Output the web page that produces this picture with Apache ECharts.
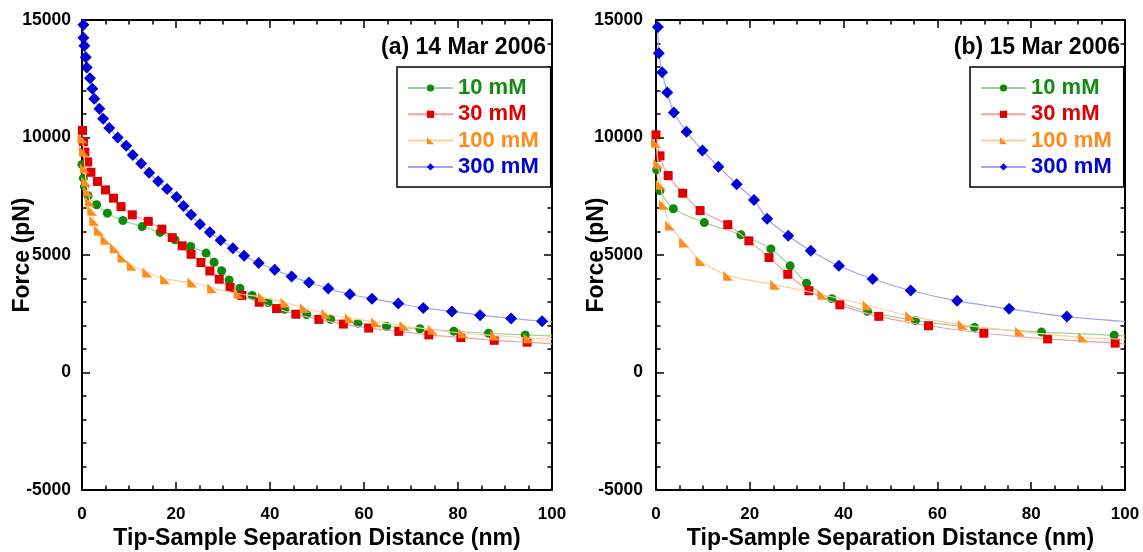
<!DOCTYPE html>
<html><head><meta charset="utf-8">
<script src="https://cdn.jsdelivr.net/npm/echarts@6/dist/echarts.min.js"></script>
<style>html,body{margin:0;padding:0;background:#fff}#c{width:1143px;height:552px}</style>
</head><body><div id="c"></div>
<script>
// ---------------- data ----------------
const seriesNames = ['10 mM', '30 mM', '100 mM', '300 mM'];
const panelTitles = ['(a) 14 Mar 2006', '(b) 15 Mar 2006'];
const xAxisTitle = 'Tip-Sample Separation Distance (nm)';
const yAxisTitle = 'Force (pN)';

// panel (a) 14 Mar 2006 : [distance nm, force pN]
const a10 = [[0,8850],[0.3,8270],[0.5,7910],[1.3,7520],[3.1,7140],[5.4,6780],[8.7,6470],[12.8,6210],[16.6,5960],[19.8,5650],[23.1,5360],[26.4,5080],[28.1,4690],[29.7,4330],[31.3,3940],[33.6,3590],[36.2,3280],[39.6,2980],[43.1,2690],[47.8,2460],[52.9,2260],[58.7,2100],[64.8,1960],[71.9,1860],[79.1,1760],[86.5,1670],[94.3,1600]];
const a30 = [[0.1,10300],[0.3,9830],[0.6,9380],[1.2,8960],[1.9,8520],[3.3,8130],[5.0,7770],[6.7,7420],[8.3,7060],[10.7,6710],[14.1,6430],[17.0,6100],[19.2,5740],[21.3,5390],[23.2,5030],[25.3,4680],[27.2,4320],[29.2,3970],[31.5,3620],[34.0,3280],[37.7,2990],[41.4,2720],[45.5,2480],[50.4,2260],[55.6,2060],[61.0,1890],[67.4,1750],[73.8,1600],[80.6,1490],[87.7,1370],[94.7,1290]];
const a100 = [[0.1,9970],[0.4,9400],[0.6,8690],[0.9,8130],[1.3,7700],[1.7,7280],[2.2,6880],[2.6,6460],[3.6,6030],[5.0,5650],[7.0,5290],[8.6,4890],[10.6,4540],[13.9,4260],[17.7,3970],[23.5,3830],[27.7,3590],[33.3,3350],[38.5,3200],[43.3,2970],[47.4,2740],[52.0,2500],[57.0,2310],[62.6,2140],[68.6,1990],[74.6,1820],[81.1,1670],[87.9,1570],[95.0,1460]];
const a300 = [[0.3,14800],[0.3,14250],[0.5,13900],[0.8,13420],[1.0,12980],[1.7,12520],[2.2,12070],[2.6,11650],[3.7,11220],[4.5,10800],[5.8,10400],[7.6,10000],[9.4,9650],[10.8,9260],[12.6,8890],[14.3,8500],[16.2,8140],[18.1,7810],[20.1,7470],[21.6,7090],[23.2,6710],[25.1,6310],[27.2,5970],[29.5,5630],[32.1,5290],[34.5,4970],[37.6,4660],[41.0,4370],[44.6,4090],[48.3,3830],[52.4,3570],[57.0,3330],[61.7,3140],[67.3,2940],[72.6,2750],[78.7,2600],[84.7,2440],[91.3,2300],[97.9,2180]];
// where each fitted curve meets the right edge (no marker)
const aEnds = [[100,1560],[100,1220],[100,1420],[100,2150]];

// panel (b) 15 Mar 2006
const b10 = [[0.15,8630],[0.85,7740],[3.7,6970],[10.3,6380],[18.1,5860],[24.5,5260],[28.6,4540],[32.1,3800],[37.5,3140],[45.1,2600],[55.3,2210],[67.9,1920],[82.2,1720],[97.7,1590]];
const b30 = [[0,10110],[0.85,9220],[2.6,8380],[5.7,7630],[9.4,6890],[15.3,6290],[19.8,5600],[24.1,4890],[28.1,4180],[32.6,3480],[39.2,2880],[47.5,2390],[58.1,1990],[69.9,1670],[83.5,1430],[97.9,1250]];
const b100 = [[0,9780],[0.5,8880],[1.0,7990],[1.7,7140],[3.0,6260],[6.0,5530],[9.5,4750],[15.4,4120],[25.4,3730],[35.5,3310],[45.1,2860],[54.2,2400],[65.4,2030],[77.6,1750],[91.1,1490]];
const b300 = [[0.4,14700],[0.6,13590],[1.3,12780],[2.4,11910],[3.8,11060],[6.5,10250],[9.9,9450],[13.3,8760],[17.2,8010],[20.9,7340],[23.7,6540],[28.2,5820],[33.0,5180],[39.0,4540],[46.2,3980],[54.3,3490],[64.2,3050],[75.3,2710],[87.6,2380]];
const bEnds = [[100,1560],[100,1210],[100,1420],[100,2170]];

const xMin = 0, xMax = 100, xStep = 20;
const yMin = -5000, yMax = 15000, yStep = 5000;

// ---------------- style ----------------
const FONT = '"Liberation Sans", Arial, Helvetica, sans-serif';
const markColors = ['#0b8a0b', '#e00000', '#ff8c1a', '#0000d8'];
const textColors = ['#138c13', '#e00000', '#ff8c1a', '#0000d8'];
const lineColors = ['#9fd39f', '#f3a0a0', '#ffcd9c', '#a3a3f3'];
const symbols = ['circle', 'rect', 'path://M0,0 L10,10 L0,10 Z', 'diamond'];
const symbolSizes = [9, 9, 10, 12];

const grids = [
  { left: 82, top: 20, width: 470, height: 470, outerBoundsMode: 'none', containLabel: false },
  { left: 656, top: 20, width: 469, height: 470, outerBoundsMode: 'none', containLabel: false }
];

function xAx(gi, top) {
  return {
    type: 'value', gridIndex: gi, min: xMin, max: xMax, interval: xStep,
    position: top ? 'top' : 'bottom',
    name: top ? '' : xAxisTitle, nameLocation: 'middle', nameGap: 37, nameMoveOverlap: false,
    nameTextStyle: { fontFamily: FONT, fontSize: 23, fontWeight: 'bold', color: '#000' },
    axisLine: { show: true, onZero: false, lineStyle: { color: '#000', width: 2 } },
    axisTick: { show: true, inside: true, length: 8, lineStyle: { color: '#000', width: 1.5 } },
    minorTick: { show: true, splitNumber: 4, length: 4.5, lineStyle: { color: '#000', width: 1.5 } },
    splitLine: { show: false }, minorSplitLine: { show: false },
    axisLabel: { show: !top, margin: 16, formatter: v => String(v), fontFamily: FONT, fontSize: 17, fontWeight: 'bold', color: '#000' }
  };
}
function yAx(gi, right) {
  return {
    type: 'value', gridIndex: gi, min: yMin, max: yMax, interval: yStep,
    position: right ? 'right' : 'left',
    name: right ? '' : yAxisTitle, nameLocation: 'middle', nameGap: 48, nameMoveOverlap: false,
    nameTextStyle: { fontFamily: FONT, fontSize: 23, fontWeight: 'bold', color: '#000' },
    axisLine: { show: true, onZero: false, lineStyle: { color: '#000', width: 2 } },
    axisTick: { show: true, inside: true, length: 8, lineStyle: { color: '#000', width: 1.5 } },
    minorTick: { show: true, splitNumber: 5, length: 4.5, lineStyle: { color: '#000', width: 1.5 } },
    splitLine: { show: false }, minorSplitLine: { show: false },
    axisLabel: { show: !right, margin: gi === 0 ? 11 : 13, formatter: v => String(v), fontFamily: FONT, fontSize: 17.5, fontWeight: 'bold', color: '#000' }
  };
}

const panelData = [[a10, a30, a100, a300], [b10, b30, b100, b300]];
const panelEnds = [aEnds, bEnds];

const series = [];
panelData.forEach((sets, gi) => {
  sets.forEach((pts, si) => {
    const data = pts.map(p => p.slice());
    data.push({ value: panelEnds[gi][si], symbol: 'none' });
    series.push({
      type: 'line', name: seriesNames[si],
      xAxisIndex: gi * 2, yAxisIndex: gi * 2,
      data: data, smooth: 0.25, clip: true,
      symbol: symbols[si], symbolSize: symbolSizes[si], showAllSymbol: true,
      itemStyle: { color: markColors[si], borderWidth: 0 },
      lineStyle: { color: lineColors[si], width: 1.2 },
      emphasis: { disabled: true }, z: 2 + si
    });
  });
});

function legend(left) {
  return {
    left: left, top: 67, orient: 'vertical', selectedMode: false,
    padding: [10, 12, 9, 10], itemGap: 4.3, itemWidth: 45, itemHeight: 9,
    borderColor: '#000', borderWidth: 1.5, backgroundColor: '#fff',
    textStyle: { fontFamily: FONT, fontSize: 22, fontWeight: 'bold' },
    data: seriesNames.map((n, i) => ({ name: n, textStyle: { color: textColors[i] } }))
  };
}

const option = {
  animation: false,
  backgroundColor: '#fff',
  grid: grids,
  xAxis: [xAx(0, false), xAx(0, true), xAx(1, false), xAx(1, true)],
  yAxis: [yAx(0, false), yAx(0, true), yAx(1, false), yAx(1, true)],
  title: [
    { text: panelTitles[0], right: 597, top: 36, padding: 0, textStyle: { fontFamily: FONT, fontSize: 23, fontWeight: 'bold', color: '#000' } },
    { text: panelTitles[1], right: 23, top: 36, padding: 0, textStyle: { fontFamily: FONT, fontSize: 23, fontWeight: 'bold', color: '#000' } }
  ],
  legend: [legend(397), legend(970)],
  series: series
};

const chart = echarts.init(document.getElementById('c'), null, { renderer: 'canvas' });
chart.setOption(option);
</script>
</body></html>
